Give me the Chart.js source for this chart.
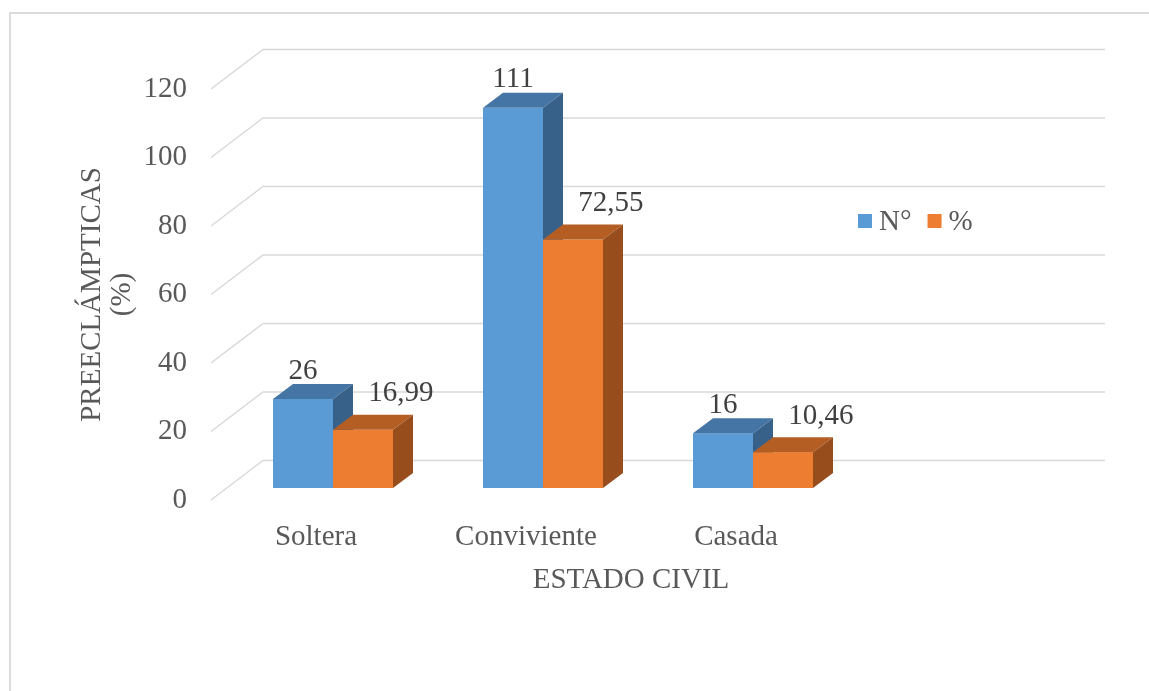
<!DOCTYPE html>
<html lang="es">
<head>
    <meta charset="UTF-8">
    <title>Preeclámpticas por estado civil</title>
    <style>
        body {
            margin: 0;
            padding: 0;
            background-color: #ffffff;
            overflow: hidden;
        }

        #marco {
            position: absolute;
            left: 9px;
            top: 12px;
            width: 1200px;
            height: 800px;
            border: 2px solid #dcdcdc;
        }

        #chartContainer {
            position: absolute;
            left: 0;
            top: 0;
            width: 1149px;
            height: 691px;
        }
    </style>
    <script src="https://cdn.jsdelivr.net/npm/chart.js"></script>
</head>
<body>
    <div id="marco"></div>
    <div id="chartContainer">
        <canvas id="grafico"></canvas>
    </div>

    <script>
        // Datos
        const categorias = ['Soltera', 'Conviviente', 'Casada', ''];
        const serieNumero = [26, 111, 16, null];
        const seriePorcentaje = [16.99, 72.55, 10.46, null];
        const nombresSeries = ['N°', '%'];
        const ticksY = [0, 20, 40, 60, 80, 100, 120];

        const fuente = "'Liberation Serif', 'Times New Roman', serif";
        const colorTexto = '#595959';

        // colores de cada serie: frente, tapa, costado
        const caras = [
            { frente: '#5b9bd5', tapa: '#4575a4', lado: '#386189' },
            { frente: '#ed7d31', tapa: '#b45e23', lado: '#984d1c' }
        ];

        // desplazamientos de la vista 3D
        const fondo = { dx: 52, dy: -39.5 };     // pared del fondo respecto al frente
        const plano = { dx: 17, dy: -12 };       // cara frontal de las barras
        const prof = { dx: 20, dy: -15 };        // profundidad de cada barra
        const etiquetaOffset = [{ dx: 0, dy: -28 }, { dx: 38, dy: -36 }];

        function formatoValor(v) {
            return String(v).replace('.', ',');
        }

        const vista3D = {
            id: 'vista3D',
            beforeDatasetsDraw(chart) {
                const ctx = chart.ctx;
                const area = chart.chartArea;
                const y = chart.scales.y;

                // rejilla: diagonal en la pared lateral + linea horizontal en el fondo
                ctx.save();
                ctx.strokeStyle = '#d9d9d9';
                ctx.lineWidth = 1.5;
                ticksY.forEach(v => {
                    const py = y.getPixelForValue(v);
                    ctx.beginPath();
                    ctx.moveTo(area.left, py);
                    ctx.lineTo(area.left + fondo.dx, py + fondo.dy);
                    ctx.lineTo(area.right + fondo.dx + 2, py + fondo.dy);
                    ctx.stroke();
                });
                ctx.restore();

                // barras en 3D (se dibujan aqui en lugar de las planas)
                const metas = chart.data.datasets.map((d, i) => chart.getDatasetMeta(i));
                categorias.forEach((c, idx) => {
                    metas.forEach((meta, s) => {
                        const el = meta.data[idx];
                        const valor = chart.data.datasets[s].data[idx];
                        if (!el || valor === null) return;
                        const x0 = el.x - el.width / 2 + plano.dx;
                        const x1 = el.x + el.width / 2 + plano.dx;
                        const top = el.y + plano.dy;
                        const base = el.base + plano.dy;
                        const col = caras[s];

                        ctx.fillStyle = col.frente;
                        ctx.fillRect(x0, top, x1 - x0, base - top);

                        ctx.fillStyle = col.tapa;
                        ctx.beginPath();
                        ctx.moveTo(x0, top);
                        ctx.lineTo(x1, top);
                        ctx.lineTo(x1 + prof.dx, top + prof.dy);
                        ctx.lineTo(x0 + prof.dx, top + prof.dy);
                        ctx.closePath();
                        ctx.fill();

                        ctx.fillStyle = col.lado;
                        ctx.beginPath();
                        ctx.moveTo(x1, top);
                        ctx.lineTo(x1 + prof.dx, top + prof.dy);
                        ctx.lineTo(x1 + prof.dx, base + prof.dy);
                        ctx.lineTo(x1, base);
                        ctx.closePath();
                        ctx.fill();
                    });
                });
                return false;
            },
            afterDraw(chart) {
                const ctx = chart.ctx;
                ctx.save();
                ctx.font = '29px ' + fuente;
                ctx.fillStyle = '#404040';
                ctx.textAlign = 'center';
                ctx.textBaseline = 'middle';

                // etiquetas de valor
                chart.data.datasets.forEach((ds, s) => {
                    const meta = chart.getDatasetMeta(s);
                    ds.data.forEach((v, idx) => {
                        if (v === null) return;
                        const el = meta.data[idx];
                        ctx.fillText(formatoValor(v),
                            el.x + plano.dx + etiquetaOffset[s].dx,
                            el.y + plano.dy + etiquetaOffset[s].dy);
                    });
                });

                // leyenda dentro del area de trazado
                ctx.textAlign = 'left';
                ctx.fillStyle = colorTexto;
                let lx = 858;
                const ly = 221;
                chart.data.datasets.forEach((ds, s) => {
                    ctx.fillStyle = caras[s].frente;
                    ctx.fillRect(lx, ly - 7, 14, 14);
                    ctx.fillStyle = colorTexto;
                    ctx.fillText(ds.label, lx + 21, ly + 1);
                    lx += 21 + ctx.measureText(ds.label).width + 16;
                });
                ctx.restore();
            }
        };

        const config = {
            type: 'bar',
            data: {
                labels: categorias,
                datasets: [
                    { label: nombresSeries[0], data: serieNumero, backgroundColor: caras[0].frente },
                    { label: nombresSeries[1], data: seriePorcentaje, backgroundColor: caras[1].frente }
                ]
            },
            options: {
                responsive: true,
                maintainAspectRatio: false,
                animation: false,
                devicePixelRatio: 1,
                categoryPercentage: 0.5714,
                barPercentage: 1,
                layout: {
                    padding: { left: 0, right: 98, top: 89, bottom: 71 }
                },
                plugins: {
                    legend: { display: false },
                    tooltip: { enabled: false }
                },
                scales: {
                    x: {
                        grid: { display: false, drawTicks: false },
                        border: { display: false },
                        ticks: {
                            color: colorTexto,
                            font: { family: fuente, size: 29 },
                            padding: 20
                        },
                        title: {
                            display: true,
                            text: 'ESTADO CIVIL',
                            color: colorTexto,
                            font: { family: fuente, size: 29 },
                            padding: { top: 0, bottom: 22 }
                        },
                        afterFit(scale) { scale.height = 120; }
                    },
                    y: {
                        min: 0,
                        max: 120,
                        afterBuildTicks(scale) {
                            scale.ticks = ticksY.map(v => ({ value: v }));
                        },
                        grid: { display: false, drawTicks: false },
                        border: { display: false },
                        ticks: {
                            color: colorTexto,
                            font: { family: fuente, size: 29 },
                            padding: 24
                        },
                        title: {
                            display: true,
                            text: ['PREECLÁMPTICAS', '(%)'],
                            color: colorTexto,
                            font: { family: fuente, size: 29, lineHeight: 1.05 },
                            padding: { top: 77, bottom: 0 }
                        },
                        afterFit(scale) { scale.width = 211; }
                    }
                }
            },
            plugins: [vista3D]
        };

        const grafico = new Chart(document.getElementById('grafico'), config);
    </script>
</body>
</html>
